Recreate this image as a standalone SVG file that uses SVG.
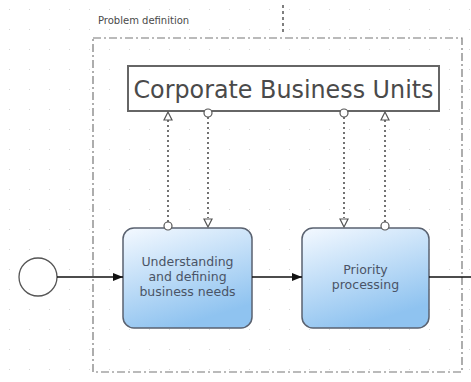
<svg xmlns="http://www.w3.org/2000/svg" width="471" height="382" viewBox="0 0 471 382">
<style>
.lbl{font-family:"DejaVu Sans","Liberation Sans",sans-serif;fill:#4a4a4a}
.task{stroke:#5a6270;stroke-width:1.5}
.tt{font-family:"DejaVu Sans","Liberation Sans",sans-serif;font-size:12.5px;fill:#4a5466;text-anchor:middle}
.flow{stroke:#111;stroke-width:1.6;fill:none}
.assoc{stroke:#444;stroke-width:1.5;stroke-dasharray:2 3;fill:none}
.cir{fill:#fff;stroke:#555;stroke-width:1.2}
.tri{fill:#fff;stroke:#555;stroke-width:1.2}
</style>
<defs>
<pattern id="grid" width="20" height="20" patternUnits="userSpaceOnUse">
<rect x="9" y="9" width="1" height="1" fill="#d6d6d6"/>
</pattern>
<linearGradient id="tg" x1="0" y1="0" x2="0.4" y2="1">
<stop offset="0" stop-color="#f4f9ff"/>
<stop offset="1" stop-color="#8fc3f0"/>
</linearGradient>
<marker id="ah" markerWidth="10" markerHeight="8" refX="10" refY="4" orient="auto" markerUnits="userSpaceOnUse">
<path d="M0,0 L10,4 L0,8 Z" fill="#111"/>
</marker>
</defs>
<rect width="471" height="382" fill="#fff"/>
<rect width="471" height="382" fill="url(#grid)"/>
<g id="group">
<rect x="93" y="38" width="369" height="334" fill="none" stroke="#777" stroke-width="1.2" stroke-dasharray="8 3 2 3"/>
<text class="lbl" x="98" y="24" font-size="10">Problem definition</text>
<line x1="283" y1="5" x2="283" y2="32" stroke="#555" stroke-width="1.5" stroke-dasharray="3 3"/>
</g>
<g id="corporate">
<rect x="128" y="66" width="311" height="45" fill="#fff" stroke="#666" stroke-width="2"/>
<text class="lbl" x="283.5" y="98" font-size="24" text-anchor="middle" textLength="300" lengthAdjust="spacingAndGlyphs">Corporate Business Units</text>
</g>
<g id="start">
<circle cx="38" cy="277" r="19" fill="#fff" stroke="#555" stroke-width="1.3"/>
</g>
<g id="task1">
<rect class="task" x="123" y="228" width="129" height="100" rx="11" fill="url(#tg)"/>
<text class="tt" x="187.5" y="266">Understanding</text>
<text class="tt" x="187.5" y="281">and defining</text>
<text class="tt" x="187.5" y="296">business needs</text>
</g>
<g id="task2">
<rect class="task" x="302" y="228" width="127" height="100" rx="11" fill="url(#tg)"/>
<text class="tt" x="365.5" y="274">Priority</text>
<text class="tt" x="365.5" y="289">processing</text>
</g>
<g id="connectors">
<line class="flow" x1="57" y1="277" x2="123" y2="277" marker-end="url(#ah)"/>
<line class="flow" x1="252" y1="277" x2="302" y2="277" marker-end="url(#ah)"/>
<line class="flow" x1="429" y1="277" x2="471" y2="277"/>
<line class="assoc" x1="168" y1="120" x2="168" y2="224"/>
<path class="tri" d="M168,112 L164,120 L172,120 Z"/>
<circle class="cir" cx="168" cy="226" r="4"/>
<line class="assoc" x1="208" y1="117" x2="208" y2="218"/>
<circle class="cir" cx="208" cy="113" r="4"/>
<path class="tri" d="M208,227 L204,219 L212,219 Z"/>
<line class="assoc" x1="344" y1="117" x2="344" y2="218"/>
<circle class="cir" cx="344" cy="113" r="4"/>
<path class="tri" d="M344,227 L340,219 L348,219 Z"/>
<line class="assoc" x1="385" y1="120" x2="385" y2="224"/>
<path class="tri" d="M385,112 L381,120 L389,120 Z"/>
<circle class="cir" cx="385" cy="226" r="4"/>
</g>
</svg>
